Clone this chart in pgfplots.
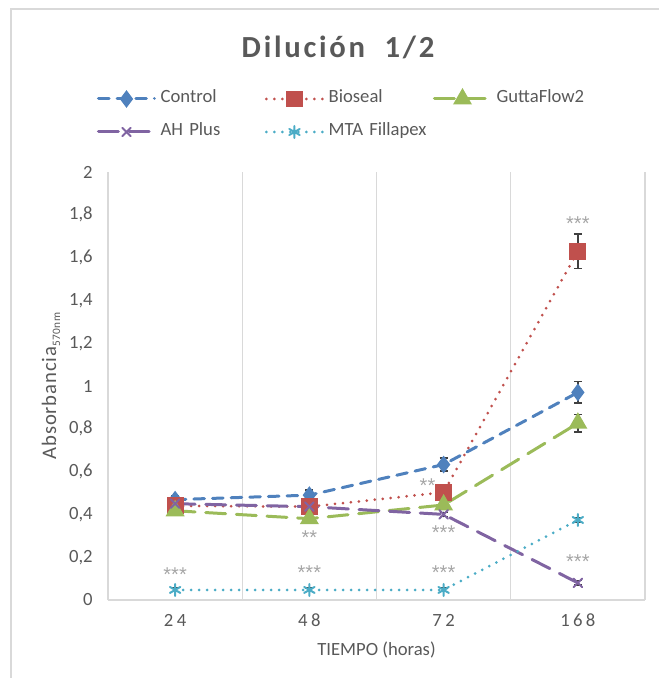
\documentclass[border=0pt]{standalone}
\usepackage{pgfplots}
\pgfplotsset{compat=1.18}
\usepackage{fontspec}
\setmainfont{Carlito}
\newfontfamily\titlefont{Carlito}[LetterSpace=9]
\newfontfamily\spacedfont{Carlito}[LetterSpace=18]
\newfontfamily\ylabfont{Carlito}[LetterSpace=4]
\newfontfamily\starfont{Liberation Sans}
\definecolor{cControl}{HTML}{4F81BD}
\definecolor{cBioseal}{HTML}{C0504D}
\definecolor{cGutta}{HTML}{9BBB59}
\definecolor{cAH}{HTML}{8064A2}
\definecolor{cMTA}{HTML}{4BACC6}
\definecolor{labelgray}{HTML}{595959}
\definecolor{gridgray}{HTML}{D9D9D9}
\definecolor{stargray}{HTML}{A6A6A6}
\definecolor{errgray}{HTML}{404040}
\newcommand{\fs}{\fontsize{14}{16.8}\selectfont}
\begin{document}
\begin{tikzpicture}
\path[use as bounding box] (-81pt,-58.5pt) rectangle (413.25pt,450pt);
\draw[gridgray, line width=1.1pt] ({(11-108)*0.75pt},-70pt) -- ({(11-108)*0.75pt},{(600-9)*0.75pt}) -- (430pt,{(600-9)*0.75pt});
\begin{axis}[
  scale only axis, width=402.75pt, height=321pt,
  xmin=-0.5, xmax=3.5, ymin=0, ymax=2,
  xtick={0,1,2,3}, xticklabels={24,48,72,168},
  minor xtick={-0.5,0.5,1.5,2.5,3.5},
  xminorgrids, minor grid style={gridgray, line width=1.1pt},
  ytick={0,0.2,0.4,0.6,0.8,1,1.2,1.4,1.6,1.8,2},
  separate axis lines,
  axis x line*=bottom, axis y line*=left,
  x axis line style={gridgray, line width=1.1pt, -},
  y axis line style={draw=none},
  tick style={draw=none},
  major tick length=0pt, minor tick length=0pt,
  /pgf/number format/assume math mode=true,
  /pgf/number format/use comma,
  yticklabel style={font=\fs, text=labelgray, anchor=east, xshift=-8pt},
  xticklabel style={font=\spacedfont\fs, text=labelgray, anchor=north, yshift=-7pt},
  xlabel={TIEMPO (horas)},
  ylabel={Absorbancia\raisebox{-3pt}{\fontsize{8.5}{9}\selectfont 570nm}},
  every axis x label/.style={at={(axis description cs:0.5,0)}, anchor=center, yshift=-37.5pt, font=\fs, text=labelgray},
  every axis y label/.style={at={(axis description cs:0,0.5)}, anchor=center, rotate=90, yshift=42.75pt, font=\ylabfont\fontsize{15.5}{17}\selectfont, text=labelgray},
  legend columns=3,
  legend cell align=left,
  legend image code/.code={\draw[mark repeat=2,mark phase=2] plot coordinates {(0pt,0pt) (21pt,0pt) (42pt,0pt)};},
  legend style={at={(axis description cs:-0.0205,1.132)}, anchor=west, draw=none, fill=none,
    inner sep=0pt, outer sep=0pt, font=\fs, text=labelgray, column sep=0pt, row sep=8.75pt,
    /tikz/every odd column/.append style={column sep=1.5pt},
    nodes={text width=76.25pt, align=left, inner sep=2pt, text height=9pt, text depth=3pt}},
  error bars/error bar style={errgray, line width=1.1pt, solid},
  error bars/error mark options={rotate=90, mark size=3pt, line width=1.1pt, errgray, solid},
]
\addplot[cControl, line width=2.25pt, line cap=round, dash pattern=on 8pt off 6pt,
  mark=diamond*, mark size=4.8pt, mark options={solid, fill=cControl},
  error bars/.cd, y dir=both, y explicit]
  coordinates {(0,0.469) +- (0,0.02) (1,0.49) +- (0,0.025) (2,0.633) +- (0,0.03) (3,0.97) +- (0,0.05)};
\addlegendentry{Control}
\addplot[cBioseal, line width=2.25pt, line cap=round, dash pattern=on 0pt off 6pt,
  mark=square*, mark size=5.2pt, mark options={solid, fill=cBioseal},
  error bars/.cd, y dir=both, y explicit]
  coordinates {(0,0.44) +- (0,0.02) (1,0.436) +- (0,0.02) (2,0.503) +- (0,0.02) (3,1.63) +- (0,0.08)};
\addlegendentry{Bioseal}
\addplot[cGutta, line width=2.25pt, line cap=round, dash pattern=on 15pt off 8pt,
  mark=triangle*, mark size=6pt, mark options={solid, fill=cGutta},
  error bars/.cd, y dir=both, y explicit]
  coordinates {(0,0.417) +- (0,0.01) (1,0.38) +- (0,0.015) (2,0.444) +- (0,0.02) (3,0.826) +- (0,0.04)};
\addlegendentry{GuttaFlow2}
\addplot[cAH, line width=2.25pt, line cap=round, dash pattern=on 15pt off 8pt,
  mark=x, mark size=4.5pt, mark options={solid, line width=1.5pt},
  error bars/.cd, y dir=both, y explicit]
  coordinates {(0,0.45) +- (0,0.01) (1,0.436) +- (0,0.01) (2,0.40) +- (0,0.01) (3,0.08) +- (0,0.01)};
\addlegendentry{AH Plus}
\addplot[cMTA, line width=2.25pt, line cap=round, dash pattern=on 0pt off 6pt,
  mark=asterisk, mark size=4.5pt, mark options={solid, line width=1.5pt},
  error bars/.cd, y dir=both, y explicit]
  coordinates {(0,0.047) +- (0,0.008) (1,0.047) +- (0,0.008) (2,0.047) +- (0,0.008) (3,0.374) +- (0,0.01)};
\addlegendentry{MTA Fillapex}
\begin{scope}[every node/.style={font=\starfont\fontsize{15}{16}\selectfont, text=stargray, anchor=base, yshift=-8.8pt}]
\node at (axis cs:0,0.14) {***};
\node at (axis cs:1,0.315) {**};
\node at (axis cs:1,0.15) {***};
\node at (axis cs:1.88,0.555) {**};
\node at (axis cs:2,0.336) {***};
\node at (axis cs:2,0.15) {***};
\node at (axis cs:3,1.78) {***};
\node at (axis cs:3,0.20) {***};
\end{scope}
\end{axis}
\node[anchor=base, font=\titlefont\bfseries\fontsize{23}{26}\selectfont, text=labelgray] at ({(338-108)*0.75pt},{(600-58)*0.75pt}) {Dilución\ \ 1/2};
\end{tikzpicture}
\end{document}
